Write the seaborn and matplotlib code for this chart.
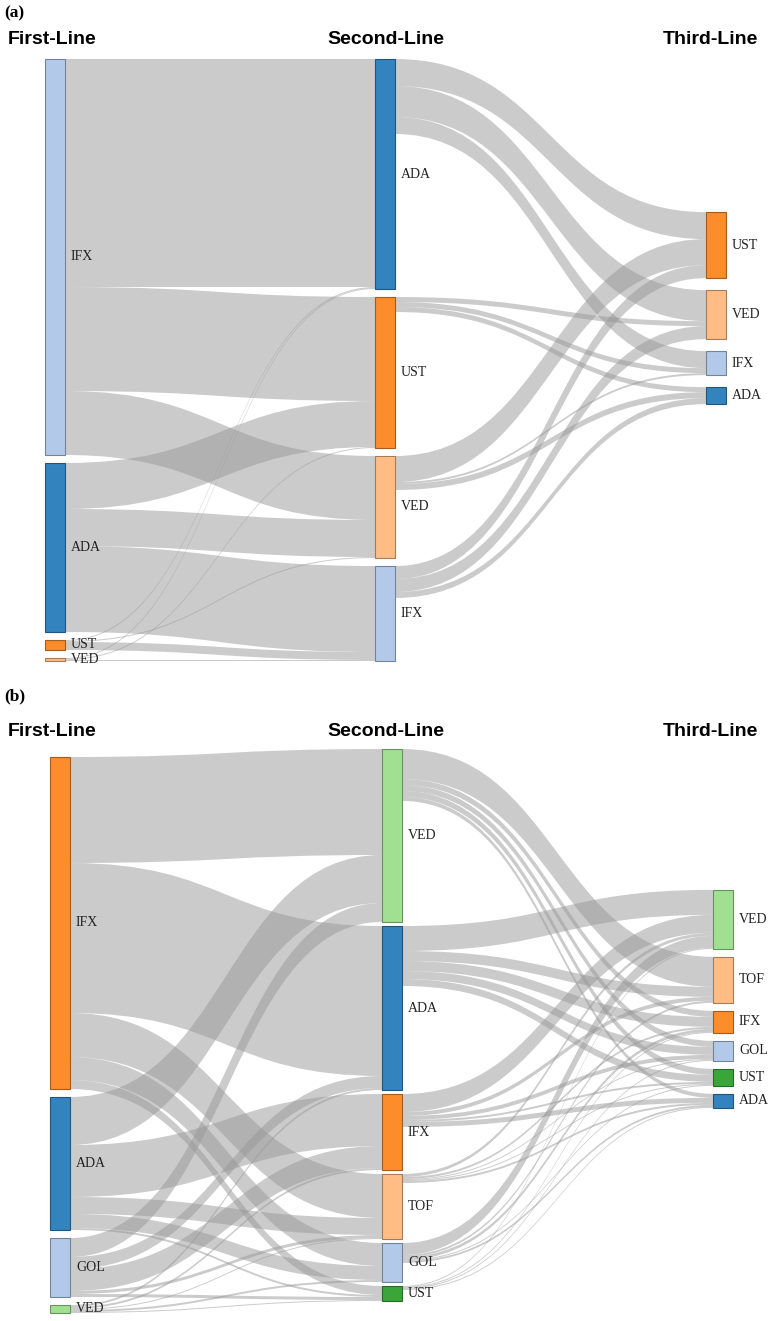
import numpy as np
import matplotlib.pyplot as plt
import seaborn as sns
from matplotlib.path import Path
from matplotlib.patches import PathPatch, Rectangle
from matplotlib.colors import to_rgb

# ---- Panel (a) ----
a_first = ['IFX', 'ADA', 'UST', 'VED']
a_second = ['ADA', 'UST', 'VED', 'IFX']
a_third = ['UST', 'VED', 'IFX', 'ADA']
# filas = primera linea, columnas = segunda linea
a_flow12 = [[228, 104, 64, 0],
            [0, 46, 37, 86],
            [1, 0, 1, 8],
            [1, 1, 0, 1]]
# filas = segunda linea, columnas = tercera linea
a_flow23 = [[27, 31, 17, 0],
            [0, 5, 5, 5],
            [26, 0, 2, 6],
            [13, 13, 0, 6]]

# ---- Panel (b) ----
b_first = ['IFX', 'ADA', 'GOL', 'VED']
b_second = ['VED', 'ADA', 'IFX', 'TOF', 'GOL', 'UST']
b_third = ['VED', 'TOF', 'IFX', 'GOL', 'UST', 'ADA']
b_flow12 = [[106, 150, 0, 44, 23, 9],
            [48, 0, 52, 17, 14, 2],
            [19, 12, 22, 3, 0, 3],
            [0, 2, 2, 1, 2, 1]]
b_flow23 = [[0, 30, 6, 6, 6, 4],
            [25, 10, 10, 8, 7, 0],
            [18, 4, 0, 4, 2, 5],
            [3, 0, 2, 1, 1, 2],
            [12, 2, 3, 0, 1, 2],
            [1, 0, 1, 1, 0, 1]]

cabeceras = ['First-Line', 'Second-Line', 'Third-Line']

colores_a = {'IFX': '#b3c9ea', 'ADA': '#3383be', 'UST': '#fd8c2b', 'VED': '#ffbd85'}
colores_b = {'IFX': '#fd8c2b', 'ADA': '#3383be', 'GOL': '#b3c9ea', 'VED': '#a1e091',
             'TOF': '#ffbd85', 'UST': '#3aa63a'}

sns.set_theme(style='white')
plt.rcParams['font.family'] = ['Liberation Sans', 'DejaVu Sans']


def cinta(ax, x0, x1, y0, y1, w):
    xm = (x0 + x1) / 2
    verts = [(x0, y0), (xm, y0), (xm, y1), (x1, y1),
             (x1, y1 + w), (xm, y1 + w), (xm, y0 + w), (x0, y0 + w), (x0, y0)]
    codes = [Path.MOVETO, Path.CURVE4, Path.CURVE4, Path.CURVE4,
             Path.LINETO, Path.CURVE4, Path.CURVE4, Path.CURVE4, Path.CLOSEPOLY]
    ax.add_patch(PathPatch(Path(verts, codes), fc='#999999', ec='none', alpha=0.5, zorder=1))


def sankey(ax, nombres, f12, f23, colores, xs, tops, gaps, desplaz, ancho=20):
    f12 = np.array(f12, dtype=float)
    f23 = np.array(f23, dtype=float)
    alturas = [f12.sum(1), np.maximum(f12.sum(0), f23.sum(1)), f23.sum(0)]

    def apilar(h, top, gap):
        return top + np.concatenate([[0], np.cumsum(h[:-1] + gap)])

    y1 = apilar(alturas[0], tops[0], gaps[0])
    y2 = apilar(alturas[1], tops[1], gaps[1])

    # la tercera columna se centra en la salida media de sus enlaces
    sal2 = y2[:, None] + np.cumsum(f23, 1) - f23
    centro = np.sum((sal2 + f23 / 2) * f23) / f23.sum() + desplaz
    total3 = alturas[2].sum() + gaps[2] * (len(alturas[2]) - 1)
    y3 = apilar(alturas[2], centro - total3 / 2, gaps[2])
    ys = [y1, y2, y3]

    for c, (flujo, ya, yb) in enumerate([(f12, y1, y2), (f23, y2, y3)]):
        sal = ya[:, None] + np.cumsum(flujo, 1) - flujo
        ent = yb[None, :] + np.cumsum(flujo, 0) - flujo
        for i in range(flujo.shape[0]):
            for j in range(flujo.shape[1]):
                if flujo[i, j] > 0:
                    cinta(ax, xs[c] + ancho, xs[c + 1], sal[i, j], ent[i, j], flujo[i, j])

    for c in range(3):
        for nombre, y, h in zip(nombres[c], ys[c], alturas[c]):
            col = colores[nombre]
            borde = tuple(np.array(to_rgb(col)) * 0.65)
            ax.add_patch(Rectangle((xs[c], y), ancho, h, fc=col, ec=borde, lw=0.8, zorder=3))
            ax.text(xs[c] + ancho + 6, y + h / 2, nombre, ha='left', va='center',
                    fontsize=10, family=['Liberation Serif'], color='#222222', zorder=4)


fig = plt.figure(figsize=(7.75, 13.21), dpi=100)
H = 1321
alto_a = 665
ax_a = fig.add_axes([0, 1 - alto_a / H, 1, alto_a / H])
ax_b = fig.add_axes([0, 0, 1, (H - alto_a) / H])

paneles = [
    (ax_a, '(a)', [a_first, a_second, a_third], a_flow12, a_flow23, colores_a,
     [45, 375, 706], [59, 59], [8, 8, 12], 10, 13, 40, alto_a),
    (ax_b, '(b)', [b_first, b_second, b_third], b_flow12, b_flow23, colores_b,
     [50, 382, 713], [92, 84], [8, 4, 8], 15, 31, 67, H - alto_a),
]

for ax, letra, nombres, f12, f23, colores, xs, tops, gaps, desplaz, y_letra, y_cab, alto in paneles:
    ax.set_xlim(0, 775)
    ax.set_ylim(alto, 0)
    ax.axis('off')
    sankey(ax, nombres, f12, f23, colores, xs, tops, gaps, desplaz)
    ax.text(4, y_letra, letra, ha='left', va='center', fontsize=12.5, fontweight='bold',
            family=['Liberation Serif'], color='black')
    for cab, xc in zip(cabeceras, [52, 386, 710]):
        ax.text(xc, y_cab, cab, ha='center', va='center', fontsize=14, fontweight='bold',
                color='black')

fig.savefig('out.png', dpi=100)
